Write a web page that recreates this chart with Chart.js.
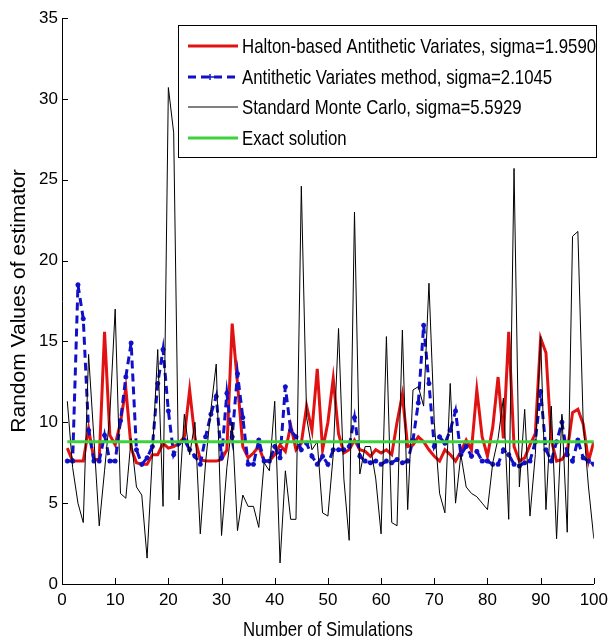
<!DOCTYPE html>
<html>
<head>
<meta charset="utf-8">
<script src="https://cdn.jsdelivr.net/npm/chart.js@4.4.0/dist/chart.umd.min.js"></script>
<style>
	html, body { margin: 0; padding: 0; background: #fff; }
</style>
</head>
<body>
<canvas id="myChart" width="614" height="643"></canvas>
<script>
// number of the simulation (x axis)
var simulations = [
	1, 2, 3, 4, 5, 6, 7, 8, 9, 10, 11, 12, 13, 14, 15, 16, 17, 18, 19, 20,
	21, 22, 23, 24, 25, 26, 27, 28, 29, 30, 31, 32, 33, 34, 35, 36, 37, 38, 39, 40,
	41, 42, 43, 44, 45, 46, 47, 48, 49, 50, 51, 52, 53, 54, 55, 56, 57, 58, 59, 60,
	61, 62, 63, 64, 65, 66, 67, 68, 69, 70, 71, 72, 73, 74, 75, 76, 77, 78, 79, 80,
	81, 82, 83, 84, 85, 86, 87, 88, 89, 90, 91, 92, 93, 94, 95, 96, 97, 98, 99, 100
];

var halton = [
	8.4, 7.6, 7.6, 7.6, 9.6, 7.7, 7.7, 15.6, 9.2, 8.6, 10.0, 12.1, 8.4, 7.5, 7.4, 7.4, 8.0, 8.0, 8.7, 8.4,
	8.5, 8.7, 9.1, 12.0, 9.0, 7.7, 7.6, 7.6, 7.6, 7.7, 8.3, 16.1, 12.4, 8.5, 7.8, 8.1, 8.5, 7.6, 7.6, 8.0,
	8.6, 8.2, 9.8, 8.3, 8.7, 11.0, 9.5, 13.3, 8.3, 10.0, 12.7, 9.3, 8.1, 8.3, 8.9, 8.3, 8.2, 7.9, 8.3, 8.1,
	8.3, 8.0, 10.0, 11.7, 8.5, 8.6, 9.1, 8.8, 8.3, 7.9, 7.6, 8.3, 8.0, 7.6, 8.2, 8.9, 8.3, 12.0, 9.1, 7.9,
	9.7, 12.8, 9.0, 15.6, 8.5, 7.6, 7.8, 8.6, 9.3, 15.2, 14.3, 8.9, 7.6, 7.7, 8.2, 10.6, 10.8, 9.9, 7.6, 8.8
];

var antithetic = [
	7.6, 7.6, 18.5, 16.4, 9.5, 7.6, 7.6, 9.2, 7.6, 7.6, 10.1, 12.8, 14.9, 8.3, 7.4, 7.8, 8.5, 12.4, 14.5, 10.7,
	8.0, 8.7, 8.9, 8.3, 7.9, 7.4, 9.1, 10.5, 11.6, 7.8, 11.8, 9.1, 13.0, 10.3, 7.4, 7.4, 8.9, 7.6, 7.6, 8.5,
	7.8, 12.2, 9.5, 9.1, 8.3, 8.7, 7.9, 7.4, 7.9, 7.4, 8.3, 8.3, 8.3, 8.5, 10.3, 7.9, 7.6, 7.5, 7.6, 7.4,
	7.6, 7.5, 7.7, 7.5, 7.6, 8.9, 11.2, 16.0, 12.4, 8.5, 9.1, 8.7, 9.5, 10.7, 8.0, 8.5, 7.9, 8.2, 7.6, 7.6,
	7.4, 7.4, 8.3, 8.0, 7.4, 7.3, 7.5, 7.6, 8.8, 11.9, 8.3, 7.6, 8.8, 10.0, 8.0, 7.6, 8.9, 7.8, 7.6, 7.4
];

var monteCarlo = [
	11.3, 7.2, 5.0, 3.8, 14.2, 9.0, 3.6, 7.0, 10.5, 17.0, 5.6, 5.3, 9.0, 6.0, 5.5, 1.6, 8.0, 14.5, 4.8, 30.7,
	27.9, 5.2, 10.5, 8.0, 10.0, 3.1, 7.5, 10.8, 13.6, 3.0, 7.2, 10.0, 3.3, 5.5, 4.8, 4.8, 3.5, 7.5, 7.0, 11.3,
	1.3, 7.0, 4.0, 4.0, 24.6, 10.3, 8.3, 8.8, 4.4, 4.2, 8.0, 15.8, 6.5, 2.7, 23.0, 6.8, 8.5, 8.5, 6.5, 3.1,
	15.3, 3.8, 3.6, 15.7, 4.6, 12.0, 12.2, 11.0, 18.6, 10.0, 5.6, 4.4, 12.4, 5.0, 8.0, 6.0, 5.6, 5.4, 5.0, 4.6,
	7.5, 9.0, 11.5, 4.0, 25.7, 6.0, 10.8, 4.2, 8.0, 15.3, 4.6, 11.0, 2.8, 10.5, 3.2, 21.5, 21.8, 10.0, 6.0, 2.8
];

var exactValue = 8.8;

var seriesLabels = [
	"Halton-based Antithetic Variates, sigma=1.9590",
	"Antithetic Variates method, sigma=2.1045",
	"Standard Monte Carlo, sigma=5.5929",
	"Exact solution"
];

var xTitle = "Number of Simulations";
var yTitle = "Random Values of estimator";

var xTicks = [0, 10, 20, 30, 40, 50, 60, 70, 80, 90, 100];
var yTicks = [0, 5, 10, 15, 20, 25, 30, 35];

var FONT = "'Liberation Sans', Arial, sans-serif";
// the figure was squeezed sideways, horizontal text looks narrow
var SQUEEZE = 0.8;

function toPoints(values)
{
	var pts = [];
	for (var i = 0; i < simulations.length; i++)
	{
		pts.push({x: simulations[i], y: values[i]});
	}
	return pts;
}

var exactLine = [];
for (var i = 0; i < simulations.length; i++)
{
	exactLine.push({x: simulations[i], y: exactValue});
}

function narrowText(ctx, text, x, y, align)
{
	ctx.save();
	ctx.translate(x, y);
	ctx.scale(SQUEEZE, 1);
	ctx.textAlign = align;
	ctx.fillText(text, 0, 0);
	ctx.restore();
}

// matlab look : inward ticks, x title, boxed legend inside the axes
var matlabLook = {
	id: 'matlabLook',
	afterDraw: function (chart)
	{
		var ctx = chart.ctx;
		var xs = chart.scales.x;
		var ys = chart.scales.y;
		var area = chart.chartArea;
		ctx.save();
		ctx.strokeStyle = '#000';
		ctx.lineWidth = 1;
		ctx.setLineDash([]);
		ctx.beginPath();
		xs.ticks.forEach(function (t)
		{
			var px = Math.round(xs.getPixelForValue(t.value)) + 0.5;
			ctx.moveTo(px, area.bottom);
			ctx.lineTo(px, area.bottom - 6);
		});
		ys.ticks.forEach(function (t)
		{
			var py = Math.round(ys.getPixelForValue(t.value)) + 0.5;
			ctx.moveTo(area.left, py);
			ctx.lineTo(area.left + 6, py);
		});
		ctx.stroke();

		ctx.fillStyle = '#000';
		ctx.textBaseline = 'middle';
		ctx.font = '21px ' + FONT;
		narrowText(ctx, xTitle, (area.left + area.right) / 2, 630, 'center');

		// legend box
		var bx = 178, by = 25, bw = 418, bh = 132;
		ctx.fillStyle = '#fff';
		ctx.fillRect(bx, by, bw, bh);
		ctx.strokeRect(bx + 0.5, by + 0.5, bw, bh);
		var rows = [46, 77, 107, 138];
		chart.data.datasets.forEach(function (ds, k)
		{
			var y = rows[k];
			ctx.save();
			ctx.strokeStyle = ds.borderColor;
			ctx.lineWidth = ds.borderWidth;
			ctx.setLineDash(ds.borderDash || []);
			ctx.beginPath();
			ctx.moveTo(188, y);
			ctx.lineTo(238, y);
			ctx.stroke();
			if (ds.pointRadius > 0)
			{
				ctx.setLineDash([]);
				ctx.lineWidth = 1.5;
				ctx.beginPath();
				ctx.moveTo(208, y); ctx.lineTo(217, y);
				ctx.moveTo(210, y - 3); ctx.lineTo(210, y + 3);
				ctx.stroke();
			}
			ctx.restore();
			ctx.fillStyle = '#000';
			narrowText(ctx, ds.label, 242, y + 1, 'left');
		});
		ctx.restore();
	}
};

var ctx = document.getElementById("myChart");
var myChart = new Chart(ctx, {
	type: 'line',
	data: {
		datasets: [
		{
			label: seriesLabels[0],
			data: toPoints(halton),
			borderColor: 'rgb(225, 18, 18)',
			borderWidth: 3,
			pointRadius: 0,
			tension: 0,
			order: 3
		},
		{
			label: seriesLabels[1],
			data: toPoints(antithetic),
			borderColor: 'rgb(16, 16, 200)',
			borderWidth: 3,
			borderDash: [8, 5],
			pointStyle: 'star',
			pointRadius: 2.5,
			pointBorderWidth: 1.5,
			pointBorderColor: 'rgb(16, 16, 200)',
			pointBackgroundColor: 'rgb(16, 16, 200)',
			tension: 0,
			order: 2
		},
		{
			label: seriesLabels[2],
			data: toPoints(monteCarlo),
			borderColor: '#000',
			borderWidth: 1,
			pointRadius: 0,
			tension: 0,
			order: 1
		},
		{
			label: seriesLabels[3],
			data: exactLine,
			borderColor: 'rgb(60, 210, 60)',
			borderWidth: 3,
			pointRadius: 0,
			tension: 0,
			order: 0
		}]
	},
	options: {
		responsive: false,
		animation: false,
		layout: {padding: {top: 18, right: 16, left: 0, bottom: 0}},
		plugins: {
			legend: {display: false},
			tooltip: {enabled: false}
		},
		scales: {
			x: {
				type: 'linear',
				min: 0,
				max: 100,
				afterBuildTicks: function (s) { s.ticks = xTicks.map(function (v) { return {value: v}; }); },
				afterFit: function (s) { s.height = 59; },
				ticks: {color: '#000', padding: 6, maxRotation: 0, autoSkip: false, font: {family: FONT, size: 17}},
				grid: {display: true, drawOnChartArea: false, drawTicks: false},
				border: {display: true, color: '#000', width: 1},
				title: {display: false}
			},
			y: {
				min: 0,
				max: 35,
				afterBuildTicks: function (s) { s.ticks = yTicks.map(function (v) { return {value: v}; }); },
				afterFit: function (s) { s.width = 62; },
				ticks: {color: '#000', padding: 4, autoSkip: false, font: {family: FONT, size: 17}},
				grid: {display: true, drawOnChartArea: false, drawTicks: false},
				border: {display: true, color: '#000', width: 1},
				title: {display: true, text: yTitle, color: '#000', padding: {top: 7, bottom: 0}, font: {family: FONT, size: 21}}
			}
		}
	},
	plugins: [matlabLook]
});
</script>
</body>
</html>
